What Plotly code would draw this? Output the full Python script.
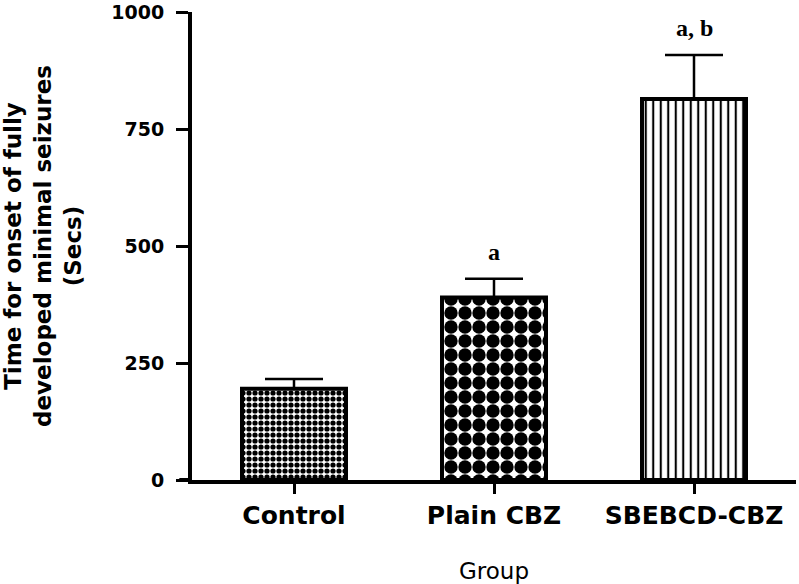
import plotly.graph_objects as go

groups = ["Control", "Plain CBZ", "SBEBCD-CBZ"]
means = [195, 390, 814]
errors = [21, 40, 94]
sig_labels = ["", "a", "a, b"]
y_ticks = [0, 250, 500, 750, 1000]

patterns = [".", ".", "|"]
pattern_sizes = [6, 14, 7.5]
pattern_solidity = [0.6, 0.72, 0.28]

fig = go.Figure()
for i, g in enumerate(groups):
    fig.add_trace(go.Bar(
        x=[g], y=[means[i]],
        width=0.52,
        marker=dict(
            color="white",
            line=dict(color="black", width=4),
            pattern=dict(shape=patterns[i], size=pattern_sizes[i],
                         solidity=pattern_solidity[i], fgcolor="black",
                         bgcolor="white", fillmode="replace"),
        ),
        error_y=dict(type="data", array=[errors[i]], arrayminus=[0],
                     symmetric=False, color="black", thickness=2.5, width=29),
        showlegend=False,
        hoverinfo="skip",
    ))

for i, g in enumerate(groups):
    if sig_labels[i]:
        fig.add_annotation(x=g, y=means[i] + errors[i], text="<b>" + sig_labels[i] + "</b>",
                           showarrow=False, yanchor="middle", yshift=27,
                           font=dict(family="Liberation Serif", size=24, color="black"))

# x-axis line extension to the left of the y-axis
fig.add_shape(type="line", xref="paper", yref="paper", x0=-0.021, x1=0, y0=0, y1=0,
              line=dict(color="black", width=4))

fig.update_layout(
    width=799, height=584,
    margin=dict(l=192, r=3, t=12, b=104),
    plot_bgcolor="white", paper_bgcolor="white",
    font=dict(family="DejaVu Sans", color="black"),
)
fig.update_xaxes(
    range=[-0.51, 2.51], automargin=False,
    showline=True, linecolor="black", linewidth=4,
    ticks="outside", ticklen=10, tickwidth=3, tickcolor="black",
    tickfont=dict(family="DejaVu Sans", size=25, color="black"),
    tickprefix="<b>", ticksuffix="</b>",
    title=dict(text="Group", font=dict(family="DejaVu Sans", size=23, color="black"), standoff=35),
    showgrid=False, zeroline=False,
)
fig.update_yaxes(
    range=[0, 1000], automargin=False,
    tickvals=y_ticks, ticktext=["<b>%d</b>" % v for v in y_ticks],
    showline=True, linecolor="black", linewidth=4,
    ticks="outside", ticklen=12, tickwidth=3, tickcolor="black",
    ticklabelstandoff=8, ticklabeloverflow="allow",
    tickfont=dict(family="DejaVu Sans", size=19, color="black"),
    title=dict(text="<b>Time for onset of fully<br>developed minimal seizures<br>(Secs)</b>",
               font=dict(family="DejaVu Sans", size=23, color="black"), standoff=44),
    showgrid=False, zeroline=False,
)

fig.write_html("out.html", config={"displayModeBar": False},
               post_script="document.body.style.margin='0';")
